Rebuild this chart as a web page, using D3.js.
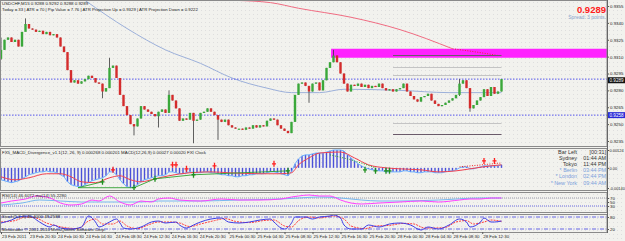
<!DOCTYPE html>
<html>
<head>
<meta charset="utf-8">
<script src="https://cdn.jsdelivr.net/npm/d3@7/dist/d3.min.js"></script>
<style>
  body { margin: 0; background: #f2f2ee; }
  svg { display: block; }
  text { font-family: "Liberation Sans", Arial, sans-serif; }
</style>
</head>
<body>
<svg id="chart" width="625" height="241"></svg>
<script>
/******************************************************************************/
/* data (USDCHF M15) */

var firstOpen = 0.9308;
var closes = [
  0.9316,0.9325,0.9327,0.9323,0.9325,0.9319,0.9332,0.9339,0.9335,0.9334,
  0.9332,0.9333,0.9330,0.9332,0.9329,0.9330,0.9327,0.9319,0.9314,0.9298,
  0.9287,0.9289,0.9286,0.9288,0.9290,0.9293,0.9291,0.9287,0.9286,0.9279,
  0.9282,0.9300,0.9302,0.9291,0.9276,0.9266,0.9258,0.9250,0.9248,0.9255,
  0.9266,0.9263,0.9261,0.9259,0.9257,0.9261,0.9263,0.9260,0.9276,0.9271,
  0.9264,0.9253,0.9255,0.9254,0.9260,0.9253,0.9254,0.9260,0.9261,0.9264,
  0.9261,0.9258,0.9254,0.9252,0.9254,0.9249,0.9247,0.9246,0.9246,0.9245,
  0.9247,0.9246,0.9249,0.9247,0.9249,0.9248,0.9253,0.9255,0.9254,0.9249,
  0.9246,0.9244,0.9242,0.9252,0.9276,0.9286,0.9287,0.9284,0.9279,0.9286,
  0.9287,0.9280,0.9289,0.9300,0.9305,0.9311,0.9305,0.9295,0.9286,0.9279,
  0.9285,0.9284,0.9286,0.9283,0.9285,0.9282,0.9284,0.9283,0.9286,0.9282,
  0.9280,0.9281,0.9279,0.9281,0.9282,0.9286,0.9279,0.9275,0.9272,0.9270,
  0.9274,0.9275,0.9277,0.9271,0.9268,0.9266,0.9267,0.9269,0.9271,0.9273,
  0.9276,0.9286,0.9289,0.9282,0.9264,0.9267,0.9271,0.9274,0.9281,0.9275,
  0.9283,0.9277,0.9279,0.9290
];
// [bar, high, low] for the bars with visible shadows
var wicks = [
  [0,0.9327,0.9307],[7,0.9344,0.9335],[29,0.9286,0.9273],[31,0.9309,0.9282],
  [38,0.9250,0.9240],[45,0.9261,0.9247],[48,0.9280,0.9260],[55,0.9260,0.9233],
  [62,0.9258,0.9236],[88,0.9284,0.9269],[95,0.9316,0.9305],[131,0.9290,0.9275],
  [134,0.9282,0.9261]
];
var maSlow = [[24,0.9360],[36,0.9335],[47,0.9316],[57,0.9304],[66,0.9291],[76,0.9282],
  [83,0.9278],[91,0.9278],[98,0.9281],[114,0.9280],[128,0.9278],[143,0.9278]];
var maFast = [[67,0.9360],[77,0.9358],[85,0.9353],[100,0.9345],[114,0.9334],[129,0.9317]];
var maFastTail = [[129,0.9317],[136,0.9314],[142,0.9311]];
var levels = [0.9290, 0.9258];
var atrLevels = [0.9311, 0.9301, 0.9294, 0.9251, 0.9241];
var atrDark = [true, false, false, false, true];
var atrFrom = 112, atrTo = 143;
var zoneTop = 0.9317, zoneBottom = 0.9309, zoneFrom = 94.3;
var priceTicks = [0.9355,0.9340,0.9325,0.9310,0.9295,0.9280,0.9265,0.9250,0.9235];

// MACD histogram, in units of 0.00001
var macdHist = [
  -83,-90,-97,-103,-97,-90,-76,-62,-48,-41,-34,-28,-28,-21,-28,-28,-34,-48,-62,-97,
  -117,-124,-131,-131,-117,-103,-90,-83,-76,-69,-55,-28,-28,-48,-83,-110,-131,-138,-131,-117,
  -97,-83,-76,-69,-62,-55,-55,-48,-28,-28,-34,-41,-41,-34,-28,-34,-34,-34,-28,-28,
  -34,-34,-41,-48,-48,-55,-55,-62,-62,-55,-55,-48,-48,-41,-41,-41,-34,-28,-28,-34,
  -41,-48,-55,-28,28,62,83,90,90,97,103,103,103,110,117,124,124,124,117,90,
  69,48,28,14,0,-7,-14,-14,-21,-21,-28,-28,-28,-28,-28,-21,-21,-28,-28,-34,
  -34,-28,-28,-28,-34,-34,-34,-28,-21,-21,-14,0,7,7,-7,-7,0,7,14,14,
  14,14,14,21
];
var macdSignal = [[0,-62],[4,-83],[8,-69],[13,-41],[17,-41],[20,-62],[23,-97],[27,-103],
  [31,-69],[34,-55],[37,-83],[40,-97],[44,-76],[48,-55],[54,-34],[60,-28],[65,-34],
  [74,-41],[80,-41],[83,-34],[85,21],[88,69],[91,103],[97,110],[101,69],[105,21],
  [110,0],[114,-7],[120,-14],[125,-28],[130,-21],[134,-7],[140,14],[143,21]];
var macdDots = [[94,90],[100,55],[107,0]];
var bullLines = [[[22,-138],[29,-97]],[[22,-138],[38,-138]],[[38,-138],[44,-76],[55,-48]],[[55,-48],[82,-21]]];
var bearDots = [[131,7],[137,20],[143,34]];
var bullArrows = [[29,-97],[38,-138],[44,-76],[55,-48],[82,-21],[104,-14],[107,-21],[110,-21],[111,-21]];
var bearArrows = [[32,-14],[49,21],[50,21],[53,-7],[61,14],[78,28],[138,48],[141,48]];
var macdTicks = [0.00124, 0, -0.0014];
var macdTickLabels = ['0.00124', '0.00', '-0.00140'];

var clockNames = ['Bar Left', 'Sydney', 'Tokyo', '* Berlin', '* London', '* New York'];
var clockTimes = ['[00:31]', '01:44 AM', '11:44 PM', '03:44 PM', '02:44 PM', '09:44 AM'];

var rsiMain = [[0,45],[3,55],[7,65],[10,80],[14,70],[17,45],[20,35],[23,40],[26,60],[28,55],
  [31,80],[34,50],[37,35],[40,55],[43,50],[45,65],[48,70],[51,60],[57,55],[63,65],[68,60],
  [74,60],[80,65],[83,75],[85,80],[88,85],[91,80],[94,80],[97,60],[100,45],[103,40],
  [108,45],[114,50],[120,55],[125,50],[131,60],[134,65],[137,65],[140,70],[143,70]];
var rsiMa = [[0,35],[6,45],[11,60],[17,55],[23,50],[28,50],[34,50],[40,50],[45,55],[57,55],
  [68,60],[80,65],[85,70],[91,75],[97,70],[103,60],[108,55],[114,55],[125,60],[137,70],[143,70]];

var stochMain = [[0,50],[3,65],[5,80],[8,85],[11,55],[13,35],[14,30],[15,40],[17,25],[20,20],
  [23,30],[25,85],[27,55],[28,30],[31,55],[33,70],[34,50],[35,25],[37,20],[40,30],[43,55],
  [45,60],[47,50],[50,55],[51,40],[53,25],[55,40],[57,55],[60,70],[63,75],[65,55],[68,50],
  [71,55],[74,65],[77,70],[78,55],[80,25],[81,20],[83,50],[84,80],[87,80],[89,70],[91,80],
  [94,85],[95,90],[97,75],[98,40],[100,20],[103,20],[105,40],[108,30],[111,45],[114,50],
  [117,40],[120,15],[122,30],[125,20],[128,40],[131,70],[133,55],[134,30],[137,55],[138,75],
  [140,55],[141,55],[143,60]];
var stochSignal = [[0,55],[4,62],[7,80],[10,75],[13,50],[16,35],[19,25],[22,22],[25,60],[27,70],
  [29,45],[32,45],[34,60],[36,35],[39,22],[42,40],[45,55],[48,55],[51,50],[54,32],[57,45],
  [61,62],[64,72],[67,58],[71,52],[75,62],[78,65],[81,35],[83,30],[85,62],[88,80],[91,75],
  [95,85],[98,70],[100,35],[104,22],[107,35],[111,38],[115,48],[118,45],[121,25],[124,25],
  [127,28],[130,55],[133,62],[135,45],[138,55],[140,65],[143,58]];

var timeTickBars = [0,8,16,24,32.5,40.5,48.5,56.5,65,73,81,89,97,105,113,121,129,137.5];
var timeLabels = ['23 Feb 2011','23 Feb 20:30','24 Feb 00:30','24 Feb 04:30','24 Feb 08:30',
  '24 Feb 12:30','24 Feb 16:30','24 Feb 20:30','25 Feb 00:30','25 Feb 04:30','25 Feb 08:30',
  '25 Feb 12:30','25 Feb 16:30','25 Feb 20:30','28 Feb 00:30','28 Feb 04:30','28 Feb 08:30',
  '28 Feb 12:30'];

/******************************************************************************/
/* layout */

var W = 607;
var panels = {
  main:  { top: 0,   bottom: 146 },
  macd:  { top: 148, bottom: 190 },
  rsi:   { top: 192, bottom: 212 },
  stoch: { top: 214, bottom: 232 }
};

var svg = d3.select('#chart');
var x = d3.scaleLinear().domain([0, 143]).range([1, 501.5]);
var yPrice = d3.scaleLinear().domain([0.9235, 0.9355]).range([141, 6]);
var yMacd = d3.scaleLinear().domain([-0.0014, 0.00124]).range([188, 150]);
var yRsi = d3.scaleLinear().domain([0, 100]).range([212, 192]);
var yStoch = d3.scaleLinear().domain([0, 100]).range([233, 213]);

var defs = svg.append('defs');
var pat = defs.append('pattern').attr('id', 'dots').attr('width', 4).attr('height', 4)
  .attr('patternUnits', 'userSpaceOnUse');
pat.append('rect').attr('width', 4).attr('height', 4).attr('fill', '#f2f2ee');
pat.append('rect').attr('x', 1).attr('y', 2).attr('width', 1).attr('height', 1).attr('fill', '#dedede');

svg.append('rect').attr('width', 625).attr('height', 241).attr('fill', 'url(#dots)');

Object.keys(panels).forEach(function(k){
  var p = panels[k];
  defs.append('clipPath').attr('id', 'clip-' + k).append('rect')
    .attr('x', 0).attr('y', p.top).attr('width', W).attr('height', p.bottom - p.top);
});

function layer(k){ return svg.append('g').attr('clip-path', 'url(#clip-' + k + ')'); }
function small(g, txt, px, py, size, color, anchor){
  return g.append('text').attr('x', px).attr('y', py).text(txt)
    .style('font-size', size + 'px').attr('fill', color || '#222')
    .attr('text-anchor', anchor || 'start');
}
function keyLine(g, pts, yScale, mult, color, width, dash, curve){
  var gen = d3.line().x(function(d){ return x(d[0]); })
    .y(function(d){ return yScale(d[1] * mult); })
    .curve(curve || d3.curveMonotoneX);
  g.append('path').attr('d', gen(pts)).attr('fill', 'none').attr('stroke', color)
    .attr('stroke-width', width).attr('stroke-dasharray', dash || null);
}

/******************************************************************************/
/* main price panel */

var main = layer('main');

main.append('rect').attr('x', x(zoneFrom)).attr('y', yPrice(zoneTop))
  .attr('width', W - x(zoneFrom)).attr('height', yPrice(zoneBottom) - yPrice(zoneTop))
  .attr('fill', '#ff22ff');

keyLine(main, maSlow, yPrice, 1, '#9cb0da', 1);
keyLine(main, maFast, yPrice, 1, '#f06c82', 1);
keyLine(main, maFastTail, yPrice, 1, '#e8203c', 1, '1,1.5');

levels.forEach(function(v){
  main.append('line').attr('x1', 0).attr('x2', W).attr('y1', yPrice(v)).attr('y2', yPrice(v))
    .attr('stroke', '#5858ee').attr('stroke-width', 1).attr('stroke-dasharray', '1.5,1.5');
});

atrLevels.forEach(function(v, i){
  main.append('line').attr('x1', x(atrFrom)).attr('x2', x(atrTo))
    .attr('y1', Math.round(yPrice(v)) + 0.5).attr('y2', Math.round(yPrice(v)) + 0.5)
    .attr('stroke', atrDark[i] ? '#6a5a6a' : '#c4c4c4').attr('stroke-width', 1);
});

// candles
var bars = closes.map(function(c, i){
  var o = i === 0 ? firstOpen : closes[i - 1];
  return { i: i, o: o, c: c, h: Math.max(o, c), l: Math.min(o, c) };
});
wicks.forEach(function(w){ bars[w[0]].h = w[1]; bars[w[0]].l = w[2]; });

var candle = main.selectAll('g.candle').data(bars).enter().append('g');
candle.append('line')
  .attr('x1', function(d){ return x(d.i); }).attr('x2', function(d){ return x(d.i); })
  .attr('y1', function(d){ return yPrice(d.h); }).attr('y2', function(d){ return yPrice(d.l); })
  .attr('stroke', '#3a3a3a').attr('stroke-width', 0.8);
candle.append('rect')
  .attr('x', function(d){ return x(d.i) - 1.2; }).attr('width', 2.4)
  .attr('y', function(d){ return yPrice(Math.max(d.o, d.c)); })
  .attr('height', function(d){ return Math.max(1.2, Math.abs(yPrice(d.o) - yPrice(d.c))); })
  .attr('fill', function(d){ return d.c >= d.o ? '#3aa83a' : '#d42c2c'; });

small(main, 'USDCHF,M15  0.9288 0.9292 0.9288 0.9289', 2, 5, 4.4, '#222');
small(main, 'Today = 33  |  ATR = 70  |  Pip Value = 7.76  |  ATR Projection Up = 0.9329  |  ATR Projection Down = 0.9222', 2, 10.5, 4.3, '#222');
small(main, '0.9289', 606, 12.5, 9.5, '#ff2020', 'end').style('font-weight', 'bold');
small(main, 'Spread: 3 points.', 606, 18.5, 5, '#8aa4cc', 'end');

/******************************************************************************/
/* MACD panel */

var macd = layer('macd');
macd.selectAll('rect.h').data(macdHist).enter().append('rect')
  .attr('x', function(d, i){ return x(i) - 0.7; }).attr('width', 1.4)
  .attr('y', function(d){ return Math.min(yMacd(0), yMacd(d * 1e-5)); })
  .attr('height', function(d){ return Math.abs(yMacd(d * 1e-5) - yMacd(0)); })
  .attr('fill', '#4a50d8');
keyLine(macd, macdHist.map(function(d, i){ return [i, d]; }), yMacd, 1e-5, '#6cb0ff', 1, null, d3.curveLinear);
keyLine(macd, macdSignal, yMacd, 1e-5, '#f04050', 1);
keyLine(macd, macdDots, yMacd, 1e-5, '#28a028', 1, '1,1.5');
keyLine(macd, bearDots, yMacd, 1e-5, '#f02020', 1, '1,1.5', d3.curveLinear);
bullLines.forEach(function(l){ keyLine(macd, l, yMacd, 1e-5, '#30a030', 0.9, null, d3.curveLinear); });

function arrow(g, d, color){
  var px = x(d[0]), py = yMacd(d[1] * 1e-5);
  g.append('path').attr('d', 'M' + px + ',' + (py - 3) + 'V' + (py + 3) + 'M' + (px - 2) + ',' + py + 'H' + (px + 2))
    .attr('stroke', color).attr('stroke-width', 1.3).attr('fill', 'none');
}
bullArrows.forEach(function(d){ arrow(macd, d, '#1e8e1e'); });
bearArrows.forEach(function(d){ arrow(macd, d, '#ff2020'); });

small(macd, 'FX5_MACD_Divergence_v1.1(12, 26, 9) 0.000268 0.000201   MACD(12,26,9) 0.00027 0.00020   FXI Clock', 2, 153.5, 4.4, '#222');

clockNames.forEach(function(n, i){
  var col = i < 3 ? '#333' : '#7aa0dc';
  small(macd, n, 577, 154 + i * 6.1, 5.4, col, 'end');
  small(macd, clockTimes[i], 606, 154 + i * 6.1, 5.4, col, 'end');
});

/******************************************************************************/
/* RSI panel */

var rsi = layer('rsi');
[70, 30].forEach(function(v, i){
  rsi.append('line').attr('x1', 0).attr('x2', W).attr('y1', yRsi(v)).attr('y2', yRsi(v))
    .attr('stroke', i ? '#6a6ae0' : '#9a9aaa').attr('stroke-dasharray', '1,1');
});
keyLine(rsi, rsiMa, yRsi, 1, '#78b8f0', 1);
keyLine(rsi, rsiMain, yRsi, 1, '#ff40ff', 1);
small(rsi, 'RSI(14) 46.6072   ma(14) 55.2280', 2, 197, 4.4, '#222');

/******************************************************************************/
/* Stochastic panel */

var stoch = layer('stoch');
[80, 20].forEach(function(v){
  stoch.append('line').attr('x1', 0).attr('x2', W).attr('y1', yStoch(v)).attr('y2', yStoch(v))
    .attr('stroke', '#6464e4').attr('stroke-dasharray', '4,1.5,1,1.5');
});
keyLine(stoch, stochSignal, yStoch, 1, '#ff4040', 1, '2,1');
keyLine(stoch, stochMain, yStoch, 1, '#3c3ce8', 1);
small(stoch, 'Stoch(5,3,3) 46.4000 48.2588', 2, 218, 4.4, '#222');
small(stoch, 'Metatrader \u00a9 2001-2010 MetaQuotes Software Corp.', 2, 231, 4.4, '#222');

/******************************************************************************/
/* frames and axes */

Object.keys(panels).forEach(function(k){
  var p = panels[k];
  svg.append('rect').attr('x', 0.5).attr('y', p.top + 0.5).attr('width', W - 0.5)
    .attr('height', p.bottom - p.top).attr('fill', 'none').attr('stroke', '#8a8a8a');
});

var axisStyle = function(g){
  g.select('.domain').remove();
  g.selectAll('line').attr('stroke', '#555');
  g.selectAll('text').style('font-size', '4.4px').attr('fill', '#222')
    .style('font-family', '"Liberation Sans", Arial, sans-serif');
};

svg.append('g').attr('transform', 'translate(' + W + ',0)')
  .call(d3.axisRight(yPrice).tickValues(priceTicks).tickSize(2).tickPadding(1).tickFormat(d3.format('.4f')))
  .call(axisStyle);

// bid and level tags on the price axis
[[0.9258, '#2b2bd8'], [0.9289, '#111']].forEach(function(t){
  var g = svg.append('g').attr('transform', 'translate(' + (W + 1) + ',' + yPrice(t[0]) + ')');
  g.append('rect').attr('x', 0).attr('y', -3).attr('width', 17).attr('height', 6).attr('fill', t[1]);
  g.append('text').attr('x', 1.5).attr('y', 1.6).text(d3.format('.4f')(t[0]))
    .style('font-size', '4.6px').attr('fill', '#fff');
});

svg.append('g').attr('transform', 'translate(' + W + ',0)')
  .call(d3.axisRight(yMacd).tickValues(macdTicks).tickSize(2).tickPadding(0.5)
    .tickFormat(function(d, i){ return macdTickLabels[i]; }))
  .call(axisStyle)
  .selectAll('text').style('font-size', '3.9px');
svg.append('g').attr('transform', 'translate(' + W + ',0)')
  .call(d3.axisRight(yRsi).tickValues([70, 50, 30]).tickSize(2).tickPadding(1))
  .call(axisStyle);
svg.append('g').attr('transform', 'translate(' + W + ',0)')
  .call(d3.axisRight(yStoch).tickValues([80, 20]).tickSize(2).tickPadding(1))
  .call(axisStyle);

var tAxis = svg.append('g').attr('transform', 'translate(0,' + panels.stoch.bottom + ')')
  .call(d3.axisBottom(x).tickValues(timeTickBars).tickSize(2).tickPadding(1)
    .tickFormat(function(d, i){ return timeLabels[i]; }))
  .call(axisStyle);
tAxis.selectAll('text').attr('text-anchor', 'start').attr('dx', '0.5');

svg.append('line').attr('x1', W + 0.5).attr('x2', W + 0.5).attr('y1', 0).attr('y2', 233)
  .attr('stroke', '#666');
</script>
</body>
</html>
